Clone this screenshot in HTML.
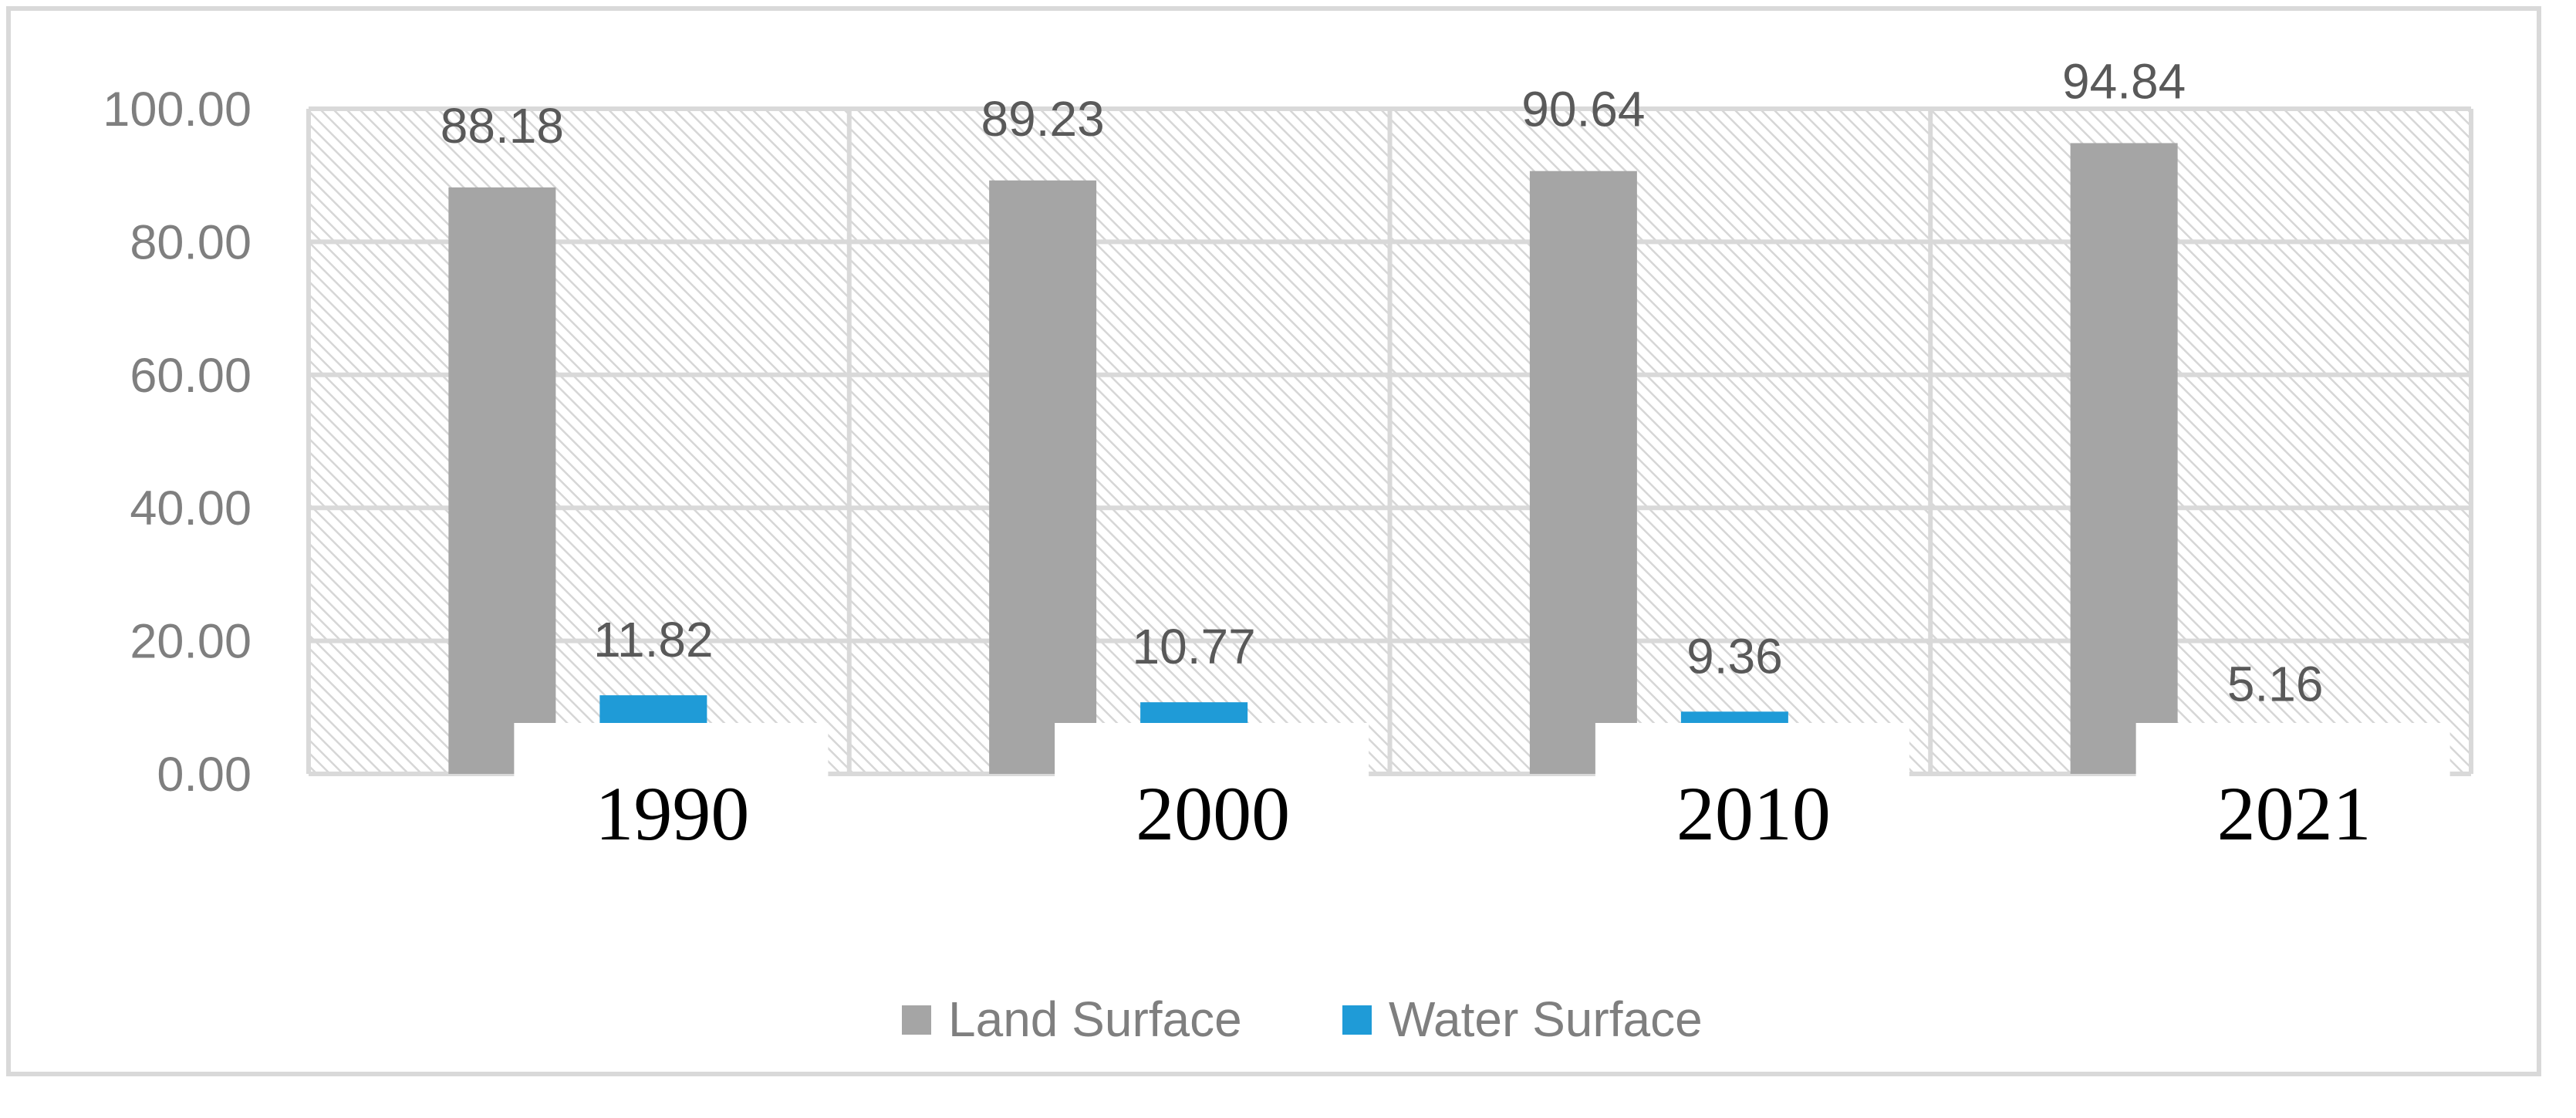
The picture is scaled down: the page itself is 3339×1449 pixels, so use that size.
<!DOCTYPE html>
<html><head><meta charset="utf-8"><style>
html,body{margin:0;padding:0;background:#fff}
svg{display:block}
</style></head><body>
<svg id="chart" width="3339" height="1449" xmlns="http://www.w3.org/2000/svg">
<defs>
<pattern id="hatch" width="12" height="12" patternUnits="userSpaceOnUse" patternTransform="rotate(-45)">
<rect width="12" height="12" fill="#fff"/>
<line x1="0" y1="0" x2="0" y2="12" stroke="#d6d6d6" stroke-width="5"/>
</pattern>
</defs>
<rect x="11" y="11" width="3280" height="1381" fill="#fff" stroke="#d9d9d9" stroke-width="6"/>
<g id="plot"></g>
</svg>
<script>
const categories = ["1990","2000","2010","2021"];
const landValues = [88.18, 89.23, 90.64, 94.84];
const waterValues = [11.82, 10.77, 9.36, 5.16];
const yTicks = [0,20,40,60,80,100];
const yTickLabels = ["0.00","20.00","40.00","60.00","80.00","100.00"];

const NS="http://www.w3.org/2000/svg";
const plot=document.getElementById('plot');
const L=400,R=3203,T=141,B=1003;
const cw=(R-L)/categories.length;
function y(v){return B-(v/100)*(B-T);}
function mk(tag,attrs,txt){const e=document.createElementNS(NS,tag);for(const k in attrs)e.setAttribute(k,attrs[k]);if(txt!==undefined)e.textContent=txt;plot.appendChild(e);return e;}

let bg=mk('rect',{x:L,y:T,width:R-L,height:B-T,fill:'url(#hatch)'});



yTicks.forEach((t,i)=>{
  let g=mk('line',{x1:L,x2:R,y1:y(t),y2:y(t),stroke:'#d9d9d9','stroke-width':6});
  
  
  let lb=mk('text',{x:326,y:y(t)+22,'text-anchor':'end','font-family':'Liberation Sans, sans-serif','font-size':63,fill:'#7f7f7f'},yTickLabels[i]);
  
  
});
for(let i=0;i<=categories.length;i++){
  let v=mk('line',{x1:L+i*cw,x2:L+i*cw,y1:T,y2:B,stroke:'#d9d9d9','stroke-width':6});
  
  
}
categories.forEach((c,i)=>{
  const cx=L+cw*(i+0.5);
  const lx=cx-169, wx=cx+27, bw=139;
  let lb=mk('rect',{x:lx,y:y(landValues[i]),width:bw,height:B-y(landValues[i]),fill:'#a5a5a5'});
  
  
  let wb=mk('rect',{x:wx,y:y(waterValues[i]),width:bw,height:B-y(waterValues[i]),fill:'#1f9bd7'});
  
  
  let box=mk('rect',{x:cx-84,y:937,width:407,height:73,fill:'#fff'});
  
  
  let ll=mk('text',{x:lx+bw/2,y:y(landValues[i])-58,'text-anchor':'middle','font-family':'Liberation Sans, sans-serif','font-size':64,fill:'#595959'},landValues[i].toFixed(2));
  
  
  let wl=mk('text',{x:wx+bw/2,y:Math.min(y(waterValues[i])-50,965),'text-anchor':'middle','font-family':'Liberation Sans, sans-serif','font-size':64,fill:'#595959'},waterValues[i].toFixed(2));
  
  
  let xl=mk('text',{x:cx+121,y:1088,'text-anchor':'middle','font-family':'Liberation Serif, serif','font-size':100,fill:'#000'},c);
  
  
});
let ls=mk('rect',{x:1169,y:1303,width:38,height:38,fill:'#a5a5a5'});


let lt=mk('text',{x:1229,y:1343,'font-family':'Liberation Sans, sans-serif','font-size':64,fill:'#7f7f7f'},'Land Surface');


let ws=mk('rect',{x:1740,y:1303,width:38,height:38,fill:'#1f9bd7'});


let wt=mk('text',{x:1800,y:1343,'font-family':'Liberation Sans, sans-serif','font-size':64,fill:'#7f7f7f'},'Water Surface');


</script>
</body></html>
